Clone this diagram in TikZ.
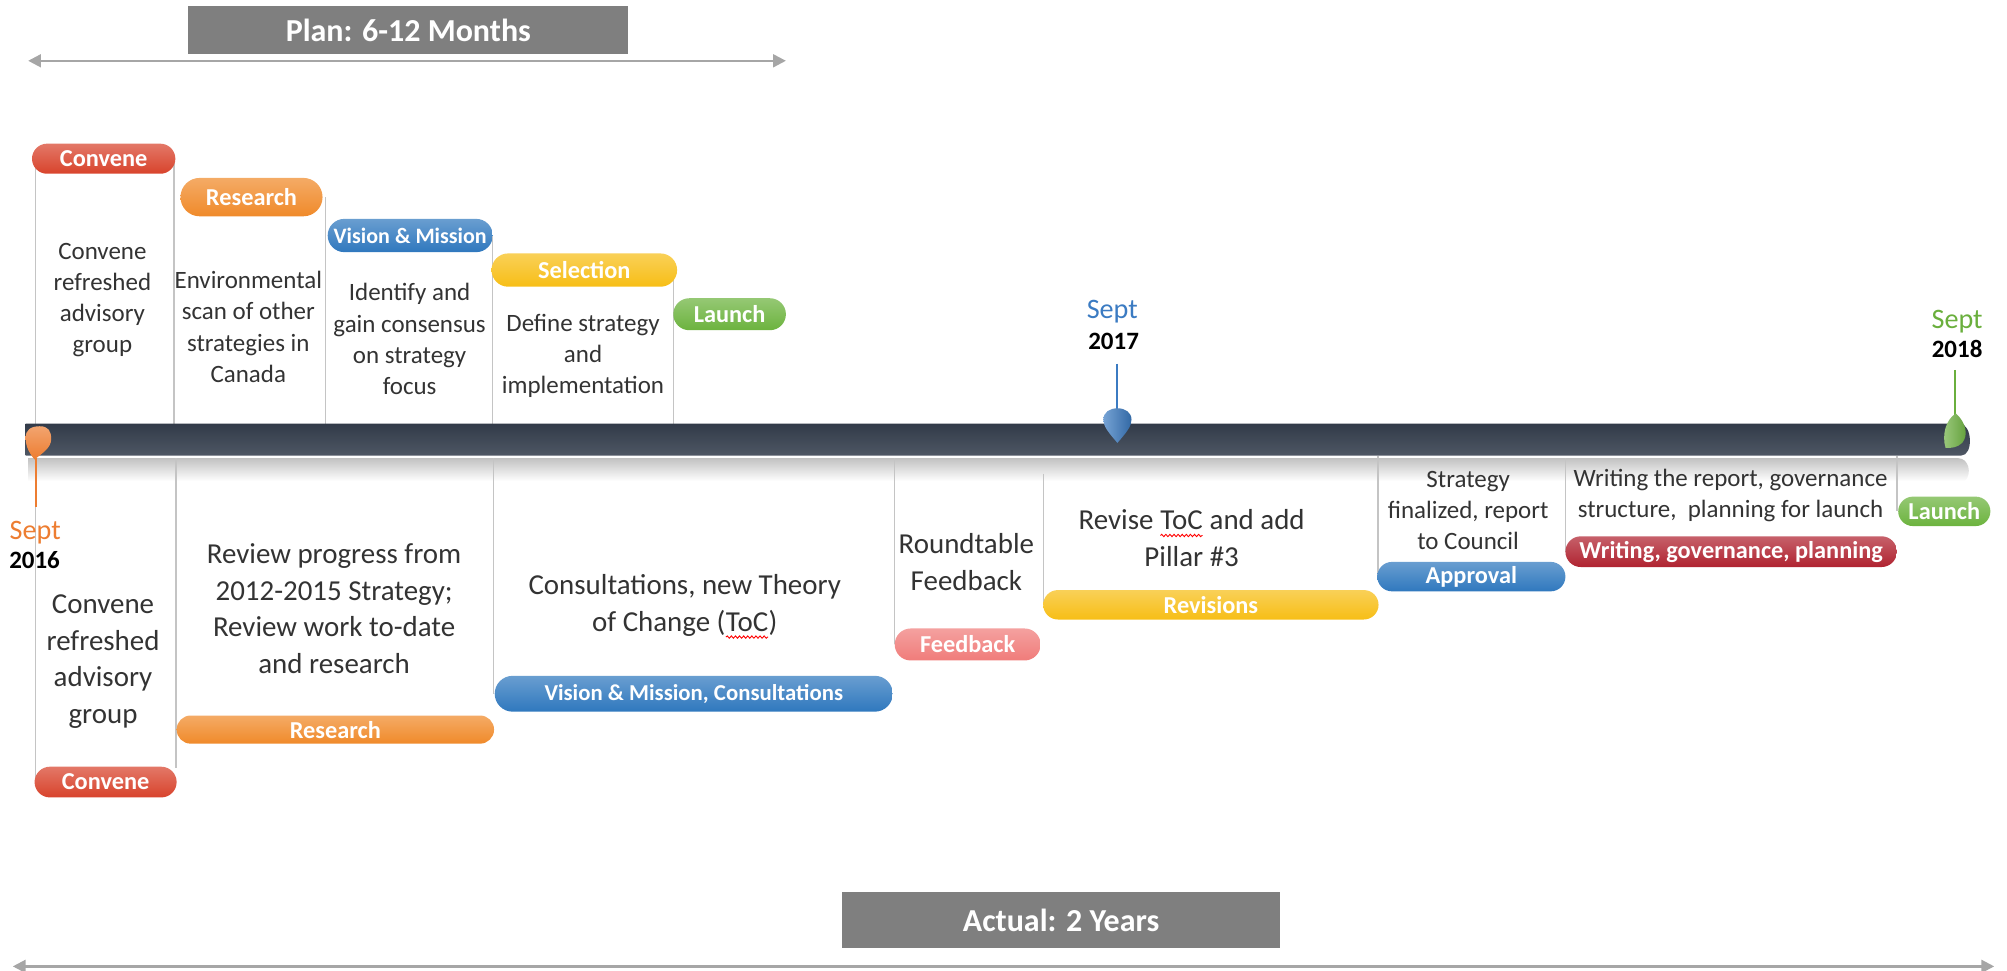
\documentclass[tikz,border=0pt]{standalone}
\usepackage{fontspec}
\setmainfont{Carlito}
\usetikzlibrary{arrows.meta,calc,shapes.misc,decorations.pathmorphing}

\definecolor{cvred}{HTML}{D8432C}
\definecolor{rsorange}{HTML}{F08A2A}
\definecolor{vmblue}{HTML}{2F78BE}
\definecolor{seyellow}{HTML}{F7BE16}
\definecolor{lagreen}{HTML}{6CB33E}
\definecolor{fbpink}{HTML}{F07C7A}
\definecolor{wrred}{HTML}{B02330}
\definecolor{bardark}{HTML}{36404F}
\definecolor{bannergray}{HTML}{7F7F7F}
\definecolor{spangray}{HTML}{A6A6A6}
\definecolor{sepline}{HTML}{C4C4C4}
\definecolor{bodytext}{HTML}{333333}
\definecolor{septorange}{HTML}{ED7D31}
\definecolor{septblue}{HTML}{3B7BC2}
\definecolor{septgreen}{HTML}{6AAF3D}

% word with a red wavy underline
\newcommand\spellmark[1]{\tikz[baseline=(sw.base)]{\node[inner sep=0pt,outer sep=0pt,shape=rectangle](sw){#1};
  \draw[red,line width=0.35pt,decorate,decoration={snake,amplitude=0.45pt,segment length=1.6pt}]
    ([yshift=-2.2pt]sw.base west) -- ([yshift=-2.2pt]sw.base east);}}

\tikzset{
  pill/.style={rounded rectangle, inner sep=0pt, text=white,
    font=\bfseries\fontsize{9.5}{11}\selectfont,
    top color=#1!72!white, bottom color=#1},
  banner/.style={fill=bannergray, inner sep=0pt, text=white,
    font=\bfseries\fontsize{12.5}{14}\selectfont},
  span/.style={draw=spangray, line width=0.9pt,
    {Triangle[width=5pt,length=5pt]}-{Triangle[width=5pt,length=5pt]}},
  topbody/.style={align=center, inner sep=0pt, text=bodytext,
    font=\fontsize{9.75}{12.2}\selectfont},
  botbody/.style={align=center, inner sep=0pt, text=bodytext,
    font=\fontsize{11.3}{14.3}\selectfont},
  sep/.style={draw=sepline, line width=0.5pt},
  septlbl/.style={inner sep=0pt, font=\fontsize{11}{12}\selectfont},
  yearlbl/.style={inner sep=0pt, text=black, font=\bfseries\fontsize{9.75}{11}\selectfont},
}

\begin{document}
\begin{tikzpicture}[x=0.5pt,y=-0.5pt]
\useasboundingbox (0,0) rectangle (1568,758);

% ---------- planned duration ----------
\node[banner, minimum width=171.75pt, minimum height=18.5pt] (plan) at (319,23.5) {Plan: 6-12 Months};
\coordinate (planL) at (22,47.5);
\coordinate (planR) at (614,47.5);
\draw[span] (planL) -- (planR);

% ---------- actual duration ----------
\node[banner, minimum width=171pt, minimum height=22pt] (actual) at (829,719) {Actual: 2 Years};
\coordinate (actL) at (10,755);
\coordinate (actR) at (1558,755);
\draw[span] (actL) -- (actR);

% ---------- column separators above the bar ----------
\coordinate (ta0) at (28,124);    \coordinate (tb0) at (28,331);
\coordinate (ta1) at (136,124);   \coordinate (tb1) at (136,331);
\coordinate (ta2) at (254.5,154); \coordinate (tb2) at (254.5,331);
\coordinate (ta3) at (385,184);   \coordinate (tb3) at (385,331);
\coordinate (ta4) at (526,211);   \coordinate (tb4) at (526,331);
\foreach \i in {0,...,4} \draw[sep] (ta\i) -- (tb\i);

% ---------- bar reflection ----------
\shade[top color=black!24, bottom color=white]
  (22,358) -- (1530,358) .. controls (1538,358) and (1541,370) .. (1535,376) -- (22,376) -- cycle;

% ---------- column separators below the bar ----------
\coordinate (ba0) at (28,358);     \coordinate (bb0) at (28,611);
\coordinate (ba1) at (137.5,358);  \coordinate (bb1) at (137.5,600);
\coordinate (ba2) at (385.5,358);  \coordinate (bb2) at (385.5,542);
\coordinate (ba3) at (699,358);    \coordinate (bb3) at (699,503);
\coordinate (ba4) at (815,370);    \coordinate (bb4) at (815,472);
\coordinate (ba5) at (1076.5,356); \coordinate (bb5) at (1076.5,450);
\coordinate (ba6) at (1223,358);   \coordinate (bb6) at (1223,431);
\coordinate (ba7) at (1482,356);   \coordinate (bb7) at (1482,399);
\foreach \i in {0,...,7} \draw[sep] (ba\i) -- (bb\i);

% ---------- timeline bar ----------
\shade[top color=bardark!92!black, bottom color=bardark!88!white]
  (20,331) -- (1531,331) .. controls (1541,331) and (1542,356) .. (1532,356) -- (20,356) -- cycle;

% ---------- planned phases (above) ----------
\node[pill=cvred,    minimum width=56pt,   minimum height=11.75pt] (cv1) at (81,124) {Convene};
\node[pill=rsorange, minimum width=55.5pt, minimum height=15pt]    (rs1) at (196.5,154) {Research};
\node[pill=vmblue,   minimum width=64.5pt, minimum height=13pt,
      font=\bfseries\fontsize{8.6}{10}\selectfont]                 (vm1) at (320.5,184) {Vision \& Mission};
\node[pill=seyellow, minimum width=72.5pt, minimum height=13pt]    (se1) at (456.5,211) {Selection};
\node[pill=lagreen,  minimum width=44pt,   minimum height=12.5pt]  (la1) at (570,245.5) {Launch};

\node[topbody] (tcv)  at (80,234.5)  {Convene\\refreshed\\advisory\\group};
\node[topbody] (tenv) at (194,255.5) {Environmental\\scan of other\\strategies in\\Canada};
\node[topbody] (tid)  at (320,265)   {Identify and\\gain consensus\\on strategy\\focus};
\node[topbody] (tdef) at (455.5,278) {Define strategy\\and\\implementation};

% ---------- actual phases (below) ----------
\node[pill=cvred,    minimum width=55.5pt,  minimum height=12pt]   (cv2) at (82.5,611) {Convene};
\node[pill=rsorange, minimum width=124pt,   minimum height=11pt]   (rs2) at (262,570) {Research};
\node[pill=vmblue,   minimum width=155.5pt, minimum height=14pt,
      font=\bfseries\fontsize{8.9}{10}\selectfont]                 (vm2) at (542,542) {Vision \& Mission, Consultations};
\node[pill=fbpink,   minimum width=57pt,    minimum height=12.5pt] (fb2) at (756,503.5) {Feedback};
\node[pill=seyellow, minimum width=131pt,   minimum height=11.5pt] (rv2) at (946,472.5) {Revisions};
\node[pill=vmblue,   minimum width=73.5pt,  minimum height=11.5pt] (ap2) at (1149.5,450.5) {Approval};
\node[pill=wrred,    minimum width=129.5pt, minimum height=12pt]   (wr2) at (1352.5,431) {Writing, governance, planning};
\node[pill=lagreen,  minimum width=36pt,    minimum height=11.5pt] (la2) at (1519,399.5) {Launch};

\node[botbody] (bcv)   at (80.5,517)  {Convene\\refreshed\\advisory\\group};
\node[botbody] (brev)  at (261,475.5) {Review progress from\\2012-2015 Strategy;\\Review work to-date\\and research};
\node[botbody] (bcons) at (535,474)   {Consultations, new Theory\\of Change (\spellmark{ToC})};
\node[botbody] (brt)   at (755,439)   {Roundtable\\Feedback};
\node[botbody] (brvs)  at (931,420.5) {Revise \spellmark{ToC} and add\\Pillar \#3};
\node[topbody] (bstr)  at (1147,399)  {Strategy\\finalized, report\\to Council};
\node[topbody] (bwr)   at (1352,387)  {Writing the report, governance\\structure, \ planning for launch};

% ---------- milestone: Sept 2016 ----------
\coordinate (m16a) at (28,358);
\coordinate (m16b) at (28,396);
\draw[septorange, line width=0.8pt] (m16a) -- (m16b);
\shade[top color=septorange!70!white, bottom color=septorange]
  (27,359) .. controls (21,352) and (20,346) .. (20,342) .. controls (20,336) and (24,333) .. (31,333)
  .. controls (38,333) and (40,337) .. (40,343) .. controls (40,350) and (33,354) .. (27,359) -- cycle;
\node[septlbl, text=septorange] (s16) at (27.5,416.5) {Sept};
\node[yearlbl] (y16) at (27,437.5) {2016};

% ---------- milestone: Sept 2017 ----------
\node[septlbl, text=septblue] (s17) at (869,243.5) {Sept};
\node[yearlbl] (y17) at (870,267) {2017};
\coordinate (m17a) at (873,284);
\coordinate (m17b) at (873,322);
\draw[septblue, line width=0.8pt] (m17a) -- (m17b);
\shade[left color=septblue!70!white, right color=septblue!85!black]
  (873,346) .. controls (866,338) and (862,333) .. (862,328) .. controls (862,322) and (867,319) .. (873,319)
  .. controls (879,319) and (884,322) .. (884,328) .. controls (884,333) and (880,338) .. (873,346) -- cycle;

% ---------- milestone: Sept 2018 ----------
\node[septlbl, text=septgreen] (s18) at (1529,251.5) {Sept};
\node[yearlbl] (y18) at (1529,273) {2018};
\coordinate (m18a) at (1527,289);
\coordinate (m18b) at (1527,326);
\draw[septgreen, line width=0.8pt] (m18a) -- (m18b);
\shade[left color=septgreen!65!white, right color=septgreen!90!black]
  (1520,350) .. controls (1517,340) and (1520,328) .. (1528,323) .. controls (1536,330) and (1538,340) .. (1533,346)
  .. controls (1529,350) and (1524,350) .. (1520,350) -- cycle;

\end{tikzpicture}
\end{document}
